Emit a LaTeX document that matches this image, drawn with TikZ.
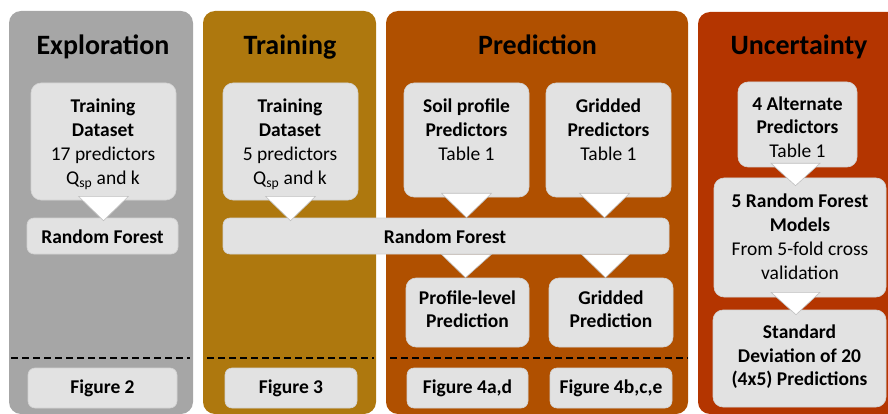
\documentclass[tikz,border=0pt]{standalone}
\usepackage{fontspec}
\setmainfont{Carlito}
\usetikzlibrary{calc}
\definecolor{cExp}{HTML}{A6A6A6}
\definecolor{cTrain}{HTML}{AE780E}
\definecolor{cPred}{HTML}{B05000}
\definecolor{cUnc}{HTML}{B43500}
\definecolor{cBox}{HTML}{E2E2E2}
\definecolor{cBoxLine}{HTML}{D2D2D2}
\definecolor{cTri}{HTML}{BFBFBF}
\newcommand{\bodyfnt}{\fontsize{19.5}{24}\selectfont}
\begin{document}
\begin{tikzpicture}[x=1pt,y=-1pt,
  panel/.style={rounded corners=12pt},
  box/.style={draw=cBoxLine, line width=0.6pt, fill=cBox, rounded corners=10pt, inner sep=0pt},
  sbox/.style={box, rounded corners=7pt},
  tri/.style={draw=cTri, line width=0.6pt, fill=white, line join=miter},
  sep/.style={line width=2pt, dash pattern=on 7pt off 4pt},
  ttl/.style={anchor=base, inner sep=0pt, font=\fontsize{28}{33}\selectfont\bfseries},
  tl/.style={anchor=north, align=center, inner sep=0pt, font=\bodyfnt}]
\useasboundingbox (0,0) rectangle (888,414);
\clip (0,0) rectangle (888,414);
% panels
\fill[panel, cExp] (9,11) rectangle (193,414);
\fill[panel, cTrain] (203,11) rectangle (376,414);
\fill[panel, cPred] (386,11) rectangle (688,414);
\fill[panel, cUnc] (698,12) rectangle (905,414);
% separators
\draw[sep] (11,358) -- (190,358);
\draw[sep] (207,358) -- (374,358);
\draw[sep] (390,358) -- (688,358);
% titles
\node[ttl] (tExp) at (103,54.3) {Exploration};
\node[ttl] (tTrain) at (290,54.3) {Training};
\node[ttl] (tPred) at (537.5,54.3) {Prediction};
\node[ttl] (tUnc) at (799,54.3) {Uncertainty};
% boxes
\node[box, minimum width=145pt, minimum height=117pt] (td1) at (103.5,141.5) {};
\node[sbox, minimum width=151pt, minimum height=36pt] (rf1) at (102.5,236) {};
\node[sbox, minimum width=149pt, minimum height=40pt] (fig2) at (102.5,388) {};
\node[box, minimum width=135pt, minimum height=117pt] (td2) at (290.5,141.5) {};
\node[sbox, minimum width=446pt, minimum height=36pt] (rf2) at (446,236) {};
\node[sbox, minimum width=132pt, minimum height=40pt] (fig3) at (291,388) {};
\node[box, minimum width=125pt, minimum height=114pt] (soil) at (466.5,140) {};
\node[box, minimum width=125pt, minimum height=114pt] (grid) at (608.5,140) {};
\node[box, minimum width=123pt, minimum height=69pt] (plp) at (467.5,312.5) {};
\node[box, minimum width=124pt, minimum height=69pt] (gp) at (611,312.5) {};
\node[sbox, minimum width=121pt, minimum height=40pt] (fig4ad) at (467.5,388) {};
\node[sbox, minimum width=122pt, minimum height=40pt] (fig4bce) at (611,388) {};
\node[box, minimum width=119pt, minimum height=85pt] (alt) at (797.5,124.5) {};
\node[box, minimum width=172pt, minimum height=119pt] (rfm) at (800,237.5) {};
\node[box, minimum width=173pt, minimum height=97pt] (sd) at (799.5,358.5) {};
% connectors (triangles)
\draw[tri] ([xshift=-25pt,yshift=4pt]td1.south) -- ([xshift=25pt,yshift=4pt]td1.south) -- ([yshift=-3pt]td1.south |- rf1.north) -- cycle;
\draw[tri] ([xshift=-25pt,yshift=4pt]td2.south) -- ([xshift=25pt,yshift=4pt]td2.south) -- ([yshift=-3pt]td2.south |- rf2.north) -- cycle;
\draw[tri] ([xshift=-25pt,yshift=4pt]soil.south) -- ([xshift=25pt,yshift=4pt]soil.south) -- (soil.south |- rf2.north) -- cycle;
\draw[tri] ([xshift=-29pt,yshift=4pt]grid.south) -- ([xshift=21pt,yshift=4pt]grid.south) -- ([xshift=-4pt]grid.south |- rf2.north) -- cycle;
\draw[tri] ([xshift=-25pt]soil.south |- rf2.south) -- ([xshift=25pt]soil.south |- rf2.south) -- ([xshift=-1pt]soil.south |- plp.north) -- cycle;
\draw[tri] ([xshift=-27pt]grid.south |- rf2.south) -- ([xshift=21pt]grid.south |- rf2.south) -- ([xshift=-3pt]grid.south |- gp.north) -- cycle;
\draw[tri] ([xshift=-26.5pt,yshift=4pt]alt.south) -- ([xshift=22.5pt,yshift=4pt]alt.south) -- ([xshift=-2pt,yshift=-8pt]alt.south |- rfm.north) -- cycle;
\draw[tri] ([xshift=-29pt,yshift=5pt]rfm.south) -- ([xshift=20pt,yshift=5pt]rfm.south) -- ([xshift=-4pt,yshift=-5pt]rfm.south |- sd.north) -- cycle;
% texts
\node[tl] (x1) at (103,95.2) {\strut\textbf{Training}\\\strut\textbf{Dataset}\\\strut 17 predictors\\\strut Q\textsubscript{sp} and k};
\node[tl] (x2) at (290,95.2) {\strut\textbf{Training}\\\strut\textbf{Dataset}\\\strut 5 predictors\\\strut Q\textsubscript{sp} and k};
\node[tl] (x3) at (102.5,226.2) {\strut\textbf{Random Forest}};
\node[tl] (x4) at (445,226.2) {\strut\textbf{Random Forest}};
\node[tl] (x5) at (466.5,95.2) {\strut\textbf{Soil profile}\\\strut\textbf{Predictors}\\\strut Table 1};
\node[tl] (x6) at (608.5,95.2) {\strut\textbf{Gridded}\\\strut\textbf{Predictors}\\\strut Table 1};
\node[tl, font=\fontsize{19.5}{23}\selectfont] (x7) at (467.5,287.9) {\strut\textbf{Profile-level}\\\strut\textbf{Prediction}};
\node[tl, font=\fontsize{19.5}{23}\selectfont] (x8) at (611,287.9) {\strut\textbf{Gridded}\\\strut\textbf{Prediction}};
\node[tl] (x9) at (102.5,376.2) {\strut\textbf{Figure 2}};
\node[tl] (x10) at (291,376.2) {\strut\textbf{Figure 3}};
\node[tl] (x11) at (467.5,376.2) {\strut\textbf{Figure 4a,d}};
\node[tl] (x12) at (611,376.2) {\strut\textbf{Figure 4b,c,e}};
\node[tl, font=\fontsize{19.5}{23.5}\selectfont] (x13) at (797.5,93.5) {\strut\textbf{4 Alternate}\\\strut\textbf{Predictors}\\\strut Table 1};
\node[tl] (x14) at (800,190.4) {\strut\textbf{5 Random Forest}\\\strut\textbf{Models}\\\strut From 5-fold cross\\\strut validation};
\node[tl, font=\fontsize{19.5}{23.5}\selectfont] (x15) at (799.5,322.2) {\strut\textbf{Standard}\\\strut\textbf{Deviation of 20}\\\strut\textbf{(4x5) Predictions}};
\end{tikzpicture}
\end{document}
